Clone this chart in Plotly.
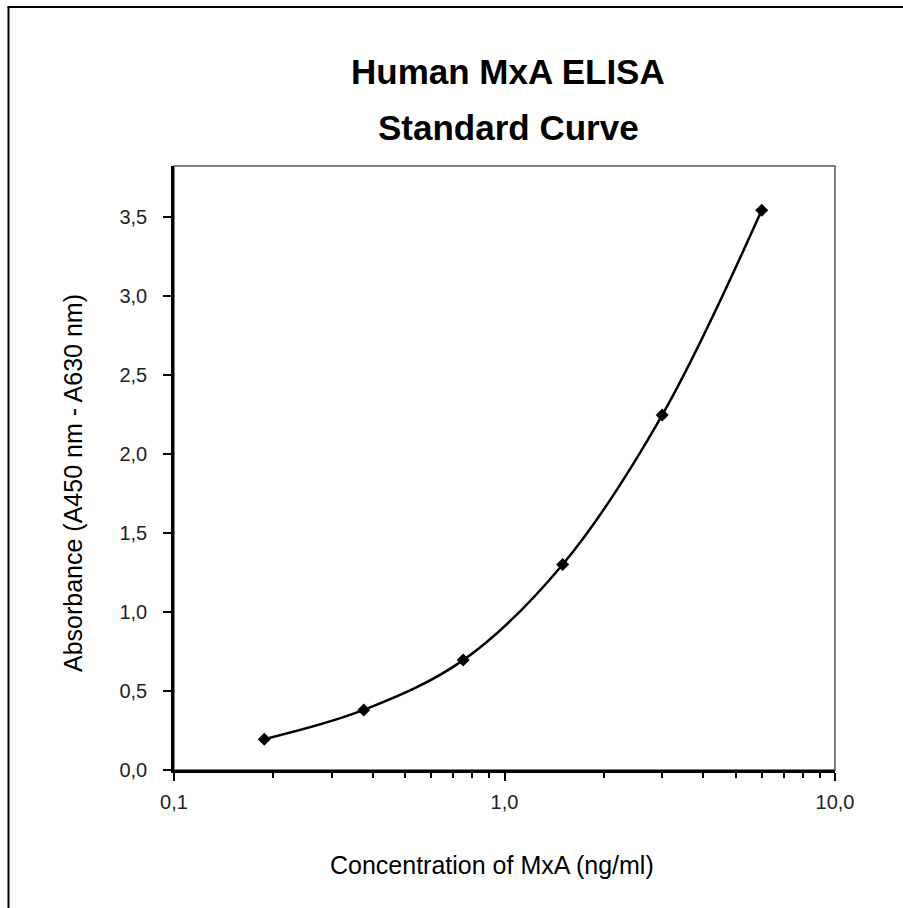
import plotly.graph_objects as go

concentration = [0.1875, 0.375, 0.75, 1.5, 3.0, 6.0]
absorbance = [0.195, 0.38, 0.695, 1.30, 2.245, 3.54]

x_tickvals = [0.1, 1, 10]
x_ticktext = ["0,1", "1,0", "10,0"]
x_minor = [0.2, 0.3, 0.4, 0.5, 0.6, 0.7, 0.8, 0.9, 2, 3, 4, 5, 6, 7, 8, 9]
y_tickvals = [0, 0.5, 1.0, 1.5, 2.0, 2.5, 3.0, 3.5]

title_lines = ["Human MxA ELISA", "Standard Curve"]
x_title = "Concentration of MxA (ng/ml)"
y_title = "Absorbance (A450 nm - A630 nm)"

FONT = "Liberation Sans Narrow, Arial Narrow, Liberation Sans, Arial, sans-serif"

fig = go.Figure()
fig.add_trace(go.Scatter(
    x=concentration, y=absorbance, mode="lines+markers",
    line=dict(color="black", width=2.5, shape="spline", smoothing=1.0),
    marker=dict(symbol="diamond", size=10, color="black"),
    showlegend=False,
))

W, H = 903, 908
L, R, T, B = 174, 835, 166, 770
pw, ph = R - L, B - T

def px(xp):
    return (xp - L) / pw

def py(yp):
    return (B - yp) / ph

annotations = [
    dict(text="<b>%s</b>" % title_lines[0], xref="paper", yref="paper",
         x=px(508), y=py(72), xanchor="center", yanchor="middle", showarrow=False,
         font=dict(family=FONT, size=35, color="black")),
    dict(text="<b>%s</b>" % title_lines[1], xref="paper", yref="paper",
         x=px(508), y=py(127), xanchor="center", yanchor="middle", showarrow=False,
         font=dict(family=FONT, size=35, color="black")),
    dict(text=x_title, xref="paper", yref="paper",
         x=px(492), y=py(865), xanchor="center", yanchor="middle", showarrow=False,
         font=dict(family=FONT, size=25, color="black")),
    dict(text=y_title, xref="paper", yref="paper", textangle=-90,
         x=px(73), y=py(483), xanchor="center", yanchor="middle", showarrow=False,
         font=dict(family=FONT, size=25, color="black")),
]

fig.update_layout(
    width=W, height=H,
    margin=dict(l=L, r=W - R, t=T, b=H - B, pad=0),
    paper_bgcolor="white", plot_bgcolor="white",
    separators=",.",
    font=dict(family=FONT, color="black", size=20),
    annotations=annotations,
    shapes=[
        dict(type="rect", xref="paper", yref="paper", x0=0, x1=1, y0=0, y1=1,
             line=dict(color="#555555", width=1.5), layer="below"),
        dict(type="line", xref="paper", yref="paper", x0=px(7.5), x1=px(W + 5),
             y0=py(7), y1=py(7), line=dict(color="black", width=2)),
        dict(type="line", xref="paper", yref="paper", x0=px(8.5), x1=px(8.5),
             y0=py(7), y1=py(H + 5), line=dict(color="black", width=2)),
    ],
)

fig.update_xaxes(
    type="log", range=[-1, 1],
    tickvals=x_tickvals, ticktext=x_ticktext,
    ticks="outside", ticklen=8, tickwidth=2, tickcolor="black",
    ticklabelstandoff=4,
    minor=dict(tickvals=x_minor, ticks="outside", ticklen=5, tickwidth=2,
               tickcolor="black", showgrid=False),
    showline=True, linecolor="black", linewidth=2.5,
    showgrid=False, zeroline=False,
    tickfont=dict(family=FONT, size=20, color="#222222"),
)
fig.update_yaxes(
    range=[0, 3.82],
    tickvals=y_tickvals, tickformat=".1f",
    ticks="outside", ticklen=8, tickwidth=2, tickcolor="black",
    ticklabelstandoff=12,
    showline=True, linecolor="black", linewidth=2.5,
    showgrid=False, zeroline=False,
    tickfont=dict(family=FONT, size=20, color="#222222"),
)

fig.write_html("out.html", config={"displayModeBar": False},
               post_script="document.body.style.margin='0';document.body.style.padding='0';")
